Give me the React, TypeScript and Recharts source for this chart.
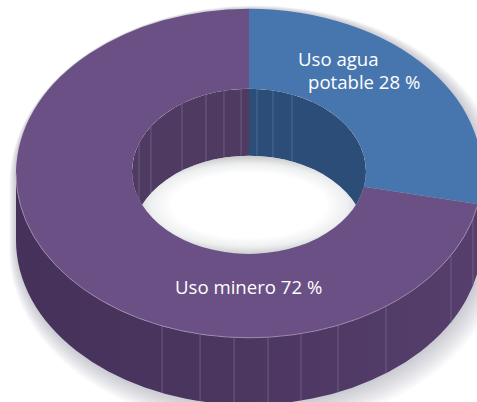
import React from 'react';
import { PieChart, Pie } from 'recharts';

const categories = ['Uso agua potable', 'Uso minero'];
const values = [28, 72];
const topColors = ['#4776ae', '#6a5085'];
const innerWallColors = ['#2c4d77', '#4f3b61'];
const outerWallFills = ['#2c4d77', 'url(#outerWall)'];
const labelLines = [['Uso agua', 'potable 28 %'], ['Uso minero 72 %']];
const outerFacets = [-0.373, -0.21, -0.064, 0.082, 0.223, 0.382, 0.588, 0.867, 0.961];
const innerFacets = [-0.94, -0.838, -0.573, -0.368, -0.214, -0.068, 0.068, 0.205, 0.368];

const data = categories.map((name, i) => ({ name, value: values[i], i }));

const W = 477, H = 402;
const CX = 249, CY = 173.3, R = 233, r = 117;
const K = 0.706;
const DEPTH = 67;
const IDY = -2;
const icy = CY + IDY;

const rad = (a: number) => (a * Math.PI) / 180;
const pt = (rad0: number, a: number, cy: number) => [CX + rad0 * Math.cos(rad(a)), cy - rad0 * K * Math.sin(rad(a))];
const f = (p: number[]) => `${p[0].toFixed(2)} ${p[1].toFixed(2)}`;
const arc = (rr: number, a1: number, a2: number, cy: number) => {
  const large = Math.abs(a1 - a2) > 180 ? 1 : 0;
  const sweep = a1 > a2 ? 1 : 0;
  return `A ${rr} ${rr * K} 0 ${large} ${sweep} ${f(pt(rr, a2, cy))}`;
};
const band = (rr: number, a1: number, a2: number, cy: number, d: number) =>
  `M ${f(pt(rr, a1, cy))} ${arc(rr, a1, a2, cy)} L ${f(pt(rr, a2, cy + d))} ${arc(rr, a2, a1, cy + d)} Z`;

// soft edge built from nested translucent copies, shifted towards the lower right
const glowSteps = [13.5, 12, 10.5, 9, 7.5, 6, 4.5, 3, 1.5];

const silhouette = (grow: number) => {
  const rx = R + grow, ry = R * K + grow;
  return `M ${CX - rx} ${CY} A ${rx} ${ry} 0 0 1 ${CX + rx} ${CY} L ${CX + rx} ${CY + DEPTH} A ${rx} ${ry} 0 0 1 ${CX - rx} ${CY + DEPTH} Z`;
};

const OuterWall = (p: any) => {
  const i = p.payload?.i ?? p.index;
  const a1 = Math.min(p.startAngle, 0);
  const a2 = Math.max(p.endAngle, -180);
  return (
    <g>
      {i === 0 && glowSteps.map((s) => (
        <path key={s} d={silhouette(s)} fill="#5f6367" fillOpacity={0.035} transform={`translate(${s * 0.5} ${s * 0.75})`} />
      ))}
      {a1 > a2 && <path d={band(R, a1, a2, CY, DEPTH)} fill={outerWallFills[i]} />}
      {i === 1 && outerFacets.map((o) => {
        const a = -90 + (Math.asin(o) * 180) / Math.PI;
        const q = pt(R, a, CY);
        return <line key={o} x1={q[0]} y1={q[1]} x2={q[0]} y2={q[1] + DEPTH} stroke="#7b6a92" strokeWidth={0.7} />;
      })}
    </g>
  );
};

const InnerWall = (p: any) => {
  const i = p.payload?.i ?? p.index;
  const a1 = Math.min(p.startAngle + (i === 1 ? 360 : 0), 180);
  const a2 = Math.max(p.endAngle + (i === 1 ? 360 : 0), 0);
  return (
    <g clipPath="url(#holeClip)">
      {a1 > a2 && <path d={band(r, a1, a2, icy, DEPTH)} fill={innerWallColors[i]} />}
      {i === 0 && innerFacets.filter((o) => o > 0).map((o) => facet(o, '#557aa3'))}
      {i === 1 && innerFacets.filter((o) => o < 0).map((o) => facet(o, '#7b6a92'))}
    </g>
  );
};
const facet = (o: number, color: string) => {
  const a = 90 - (Math.asin(o) * 180) / Math.PI;
  const q = pt(r, a, icy);
  return <line key={o} x1={q[0]} y1={q[1]} x2={q[0]} y2={q[1] + DEPTH} stroke={color} strokeWidth={0.7} />;
};

const Top = (p: any) => {
  const i = p.payload?.i ?? p.index;
  const a1 = p.startAngle, a2 = p.endAngle;
  const d = `M ${f(pt(R, a1, CY))} ${arc(R, a1, a2, CY)} L ${f(pt(r, a2, icy))} ${arc(r, a2, a1, icy)} Z`;
  return (
    <g>
      {i === 0 && (
        <g clipPath="url(#holeClip)">
          <g clipPath="url(#hole2Clip)">
            <rect x={CX - r} y={icy - r} width={2 * r} height={2 * r + DEPTH} fill="url(#lensShade)" />
          </g>
        </g>
      )}
      <path d={d} fill={topColors[i]} />
      {i === 1 && <path d={`M ${f(pt(R, 0, CY))} ${arc(R, 0, -180, CY)}`} fill="none" stroke="#a99bb8" strokeWidth={0.7} />}
      <g fontFamily="'Open Sans', sans-serif" fontSize={18.6} fill="#ffffff">
        {i === 0 ? (
          <>
            <text x={298} y={66}>{labelLines[0][0]}</text>
            <text x={308} y={89}>{labelLines[0][1]}</text>
          </>
        ) : (
          <text x={175} y={294}>{labelLines[1][0]}</text>
        )}
      </g>
    </g>
  );
};

export default function App() {
  return (
    <div style={{ position: 'absolute', left: 0, top: 0, width: W, height: H, overflow: 'hidden', background: '#fff' }}>
      <PieChart width={W} height={H} margin={{ top: 0, right: 0, bottom: 0, left: 0 }}>
        <defs>
          <linearGradient id="outerWall" gradientUnits="userSpaceOnUse" x1={16} y1={0} x2={482} y2={0}>
            <stop offset="0" stopColor="#45315a" />
            <stop offset="0.45" stopColor="#4b3660" />
            <stop offset="1" stopColor="#563f6c" />
          </linearGradient>
          <radialGradient id="lensShade" gradientUnits="userSpaceOnUse" cx={CX} cy={icy + 34} r={r}
            gradientTransform={`translate(0 ${(icy + 34) * (1 - 0.42)}) scale(1 0.42)`}>
            <stop offset="0" stopColor="#ffffff" />
            <stop offset="0.66" stopColor="#ffffff" />
            <stop offset="0.84" stopColor="#eeeff0" />
            <stop offset="1" stopColor="#c9cbcd" />
          </radialGradient>
          <clipPath id="holeClip">
            <ellipse cx={CX} cy={icy} rx={r} ry={r * K} />
          </clipPath>
          <clipPath id="hole2Clip">
            <ellipse cx={CX} cy={icy + DEPTH} rx={r} ry={r * K} />
          </clipPath>
        </defs>
        <Pie data={data} dataKey="value" nameKey="name" cx={CX} cy={CY} innerRadius={r} outerRadius={R}
          startAngle={90} endAngle={-270} stroke="none" isAnimationActive={false} shape={OuterWall} />
        <Pie data={data} dataKey="value" nameKey="name" cx={CX} cy={CY} innerRadius={r} outerRadius={R}
          startAngle={90} endAngle={-270} stroke="none" isAnimationActive={false} shape={InnerWall} />
        <Pie data={data} dataKey="value" nameKey="name" cx={CX} cy={CY} innerRadius={r} outerRadius={R}
          startAngle={90} endAngle={-270} stroke="none" isAnimationActive={false} shape={Top} />
      </PieChart>
    </div>
  );
}
